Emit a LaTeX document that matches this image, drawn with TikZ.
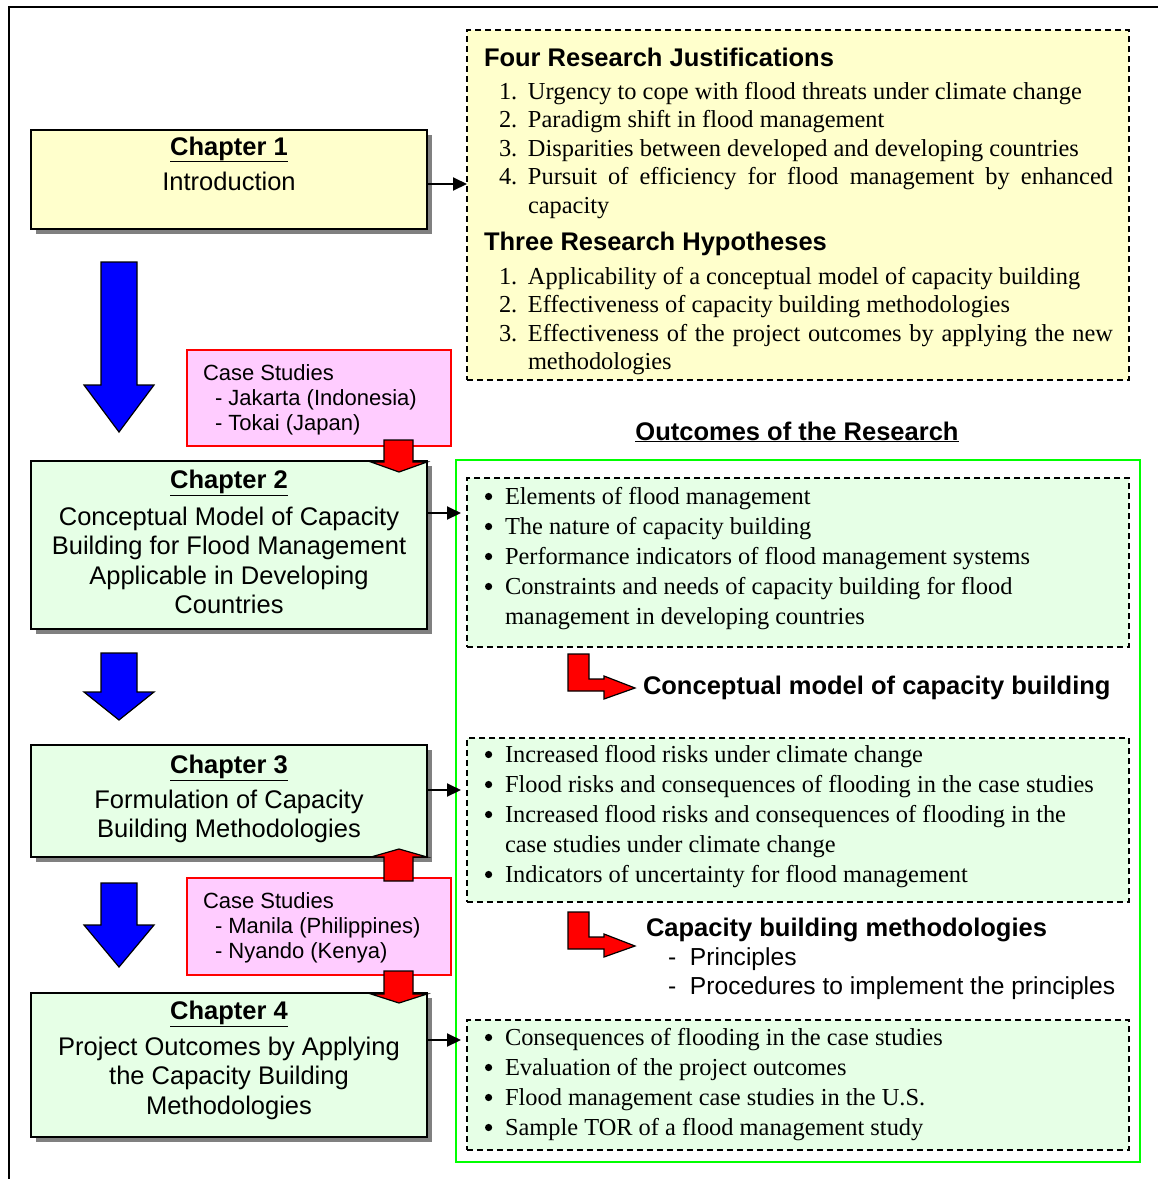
\documentclass[tikz,border=0pt]{standalone}
\usepackage{fontspec}
\setmainfont{Liberation Serif}
\setsansfont{Liberation Sans}
\usetikzlibrary{shadows,arrows.meta,calc}

\definecolor{paleyellow}{HTML}{FFFFCC}
\definecolor{palegreen}{HTML}{E6FFE6}
\definecolor{palepink}{HTML}{FFCCFF}
\definecolor{brightgreen}{HTML}{00FF00}
\definecolor{shadowgray}{HTML}{808080}

% type sizes
\newcommand\sansbig{\sffamily\fontsize{25.5}{29.5}\selectfont}
\newcommand\sanssub{\sffamily\fontsize{24.6}{29}\selectfont}
\newcommand\sanssmall{\sffamily\fontsize{22}{25}\selectfont}
\newcommand\serifyellow{\rmfamily\fontsize{24.4}{28.5}\selectfont}
\newcommand\serifgreen{\rmfamily\fontsize{24.4}{30}\selectfont}
% fixed height for the first line of a block, so its top edge is predictable
\newcommand\lineone{\rule{0pt}{20pt}}
\newcommand\numitem[1]{\makebox[29pt][l]{#1}}
\newcommand\bulletitem{\makebox[20pt][l]{\tikz[baseline=0pt]\fill[black] (4pt,7.5pt) circle (3.6pt);}}
\newcommand\bulletgap{\makebox[20pt][l]{}}

\begin{document}
\begin{tikzpicture}[x=1pt,y=-1pt,
  chapbox/.style={draw=black, line width=2pt, anchor=north west, inner sep=0, outer sep=0,
    minimum width=396pt,
    drop shadow={shadow xshift=5pt, shadow yshift=-5pt, fill=shadowgray, opacity=1}},
  casebox/.style={draw=red, line width=1.2pt, fill=palepink, anchor=north west,
    inner sep=0, outer sep=0, minimum width=264pt},
  dashbox/.style={draw=black, line width=1.3pt, dash pattern=on 6pt off 4pt,
    anchor=north west, inner sep=0, outer sep=0, minimum width=662pt},
  block/.style={inner sep=0, outer sep=0},
  conn/.style={line width=2pt, -{Triangle[length=14pt,width=13pt]}},
  bluearrow/.style={fill=blue, draw=black, line width=1.2pt, line join=miter},
  redarrow/.style={fill=red, draw=black, line width=1.2pt, line join=miter},
]
\useasboundingbox (0,0) rectangle (1158,1179);

% frame
\draw[line width=1.5pt] (9,1179) -- (9,7) -- (1158,7);

% ---------- right column ----------
\node[dashbox, fill=paleyellow, minimum height=350pt] (just) at (467,30) {};
\node[block, font=\sansbig\bfseries, anchor=base west] (justtitle) at (484,66) {Four Research Justifications};
\node[block, font=\serifyellow, align=left, anchor=north west] (justlist) at (499,79)
  {\lineone\numitem{1.}Urgency to cope with flood threats under climate change\\
   \numitem{2.}Paradigm shift in flood management\\
   \numitem{3.}Disparities between developed and developing countries\\
   \numitem{4.}\makebox[585pt][s]{Pursuit of efficiency for flood management by enhanced}\\
   \numitem{}capacity};
\node[block, font=\sansbig\bfseries, anchor=base west] (hyptitle) at (484,250) {Three Research Hypotheses};
\node[block, font=\serifyellow, align=left, anchor=north west] (hyplist) at (499,264)
  {\lineone\numitem{1.}Applicability of a conceptual model of capacity building\\
   \numitem{2.}Effectiveness of capacity building methodologies\\
   \numitem{3.}\makebox[585pt][s]{Effectiveness of the project outcomes by applying the new}\\
   \numitem{}methodologies};

\node[block, font=\sansbig\bfseries, anchor=base] (outtitle) at (797,440) {\underline{Outcomes of the Research}};
\node[draw=brightgreen, line width=2.5pt, fill=white, anchor=north west, inner sep=0, outer sep=0,
  minimum width=684pt, minimum height=702pt] (outcomes) at (456,460) {};

\node[dashbox, fill=palegreen, minimum height=169pt] (out1) at (467,478) {};
\node[block, font=\serifgreen, align=left, anchor=north west] (out1list) at (485,484)
  {\lineone\bulletitem Elements of flood management\\
   \bulletitem The nature of capacity building\\
   \bulletitem Performance indicators of flood management systems\\
   \bulletitem Constraints and needs of capacity building for flood\\
   \bulletgap management in developing countries};

\node[dashbox, fill=palegreen, minimum height=164pt] (out2) at (467,738) {};
\node[block, font=\serifgreen, align=left, anchor=north west] (out2list) at (485,742)
  {\lineone\bulletitem Increased flood risks under climate change\\
   \bulletitem Flood risks and consequences of flooding in the case studies\\
   \bulletitem Increased flood risks and consequences of flooding in the\\
   \bulletgap case studies under climate change\\
   \bulletitem Indicators of uncertainty for flood management};

\node[dashbox, fill=palegreen, minimum height=130pt] (out3) at (467,1020) {};
\node[block, font=\serifgreen, align=left, anchor=north west] (out3list) at (485,1025)
  {\lineone\bulletitem Consequences of flooding in the case studies\\
   \bulletitem Evaluation of the project outcomes\\
   \bulletitem Flood management case studies in the U.S.\\
   \bulletitem Sample TOR of a flood management study};

% bent result arrows
\draw[redarrow] (568,654) -- (589,654) -- (589,679) -- (604,679) -- (604,676) -- (635,688)
  -- (604,699) -- (604,691) -- (568,691) -- cycle;
\node[block, font=\sansbig\bfseries, anchor=base west] (model) at (643,694) {Conceptual model of capacity building};

\draw[redarrow] (568,912) -- (589,912) -- (589,937) -- (604,937) -- (604,934) -- (635,946)
  -- (604,957) -- (604,949) -- (568,949) -- cycle;
\node[block, font=\sansbig\bfseries, anchor=base west] (method) at (646,936) {Capacity building methodologies};
\node[block, font=\sanssub, align=left, anchor=north west] (methodlist) at (668,945)
  {\lineone\makebox[22pt][l]{-}Principles\\
   \makebox[22pt][l]{-}Procedures to implement the principles};

% ---------- left column ----------
\node[chapbox, fill=paleyellow, minimum height=99pt] (ch1) at (31,130) {};
\node[block, font=\sansbig, anchor=base] (ch1title) at (229,155) {\underline{\textbf{Chapter 1}}};
\node[block, font=\sansbig, anchor=base] (ch1text) at (229,190) {Introduction};

\node[casebox, minimum height=96pt] (case1) at (187,350) {};
\node[block, font=\sanssmall, align=left, anchor=north west] (case1text) at (203,362)
  {\rule{0pt}{18pt}Case Studies\\
   \hspace*{12pt}- Jakarta (Indonesia)\\
   \hspace*{12pt}- Tokai (Japan)};

\node[chapbox, fill=palegreen, minimum height=168pt] (ch2) at (31,461) {};
\node[block, font=\sansbig, anchor=base] (ch2title) at (229,488) {\underline{\textbf{Chapter 2}}};
\node[block, font=\sansbig, align=center, anchor=north] (ch2text) at (229,505)
  {\lineone Conceptual Model of Capacity\\
   Building for Flood Management\\
   Applicable in Developing\\
   Countries};

\node[chapbox, fill=palegreen, minimum height=112pt] (ch3) at (31,745) {};
\node[block, font=\sansbig, anchor=base] (ch3title) at (229,773) {\underline{\textbf{Chapter 3}}};
\node[block, font=\sansbig, align=center, anchor=north] (ch3text) at (229,788)
  {\lineone Formulation of Capacity\\
   Building Methodologies};

\node[casebox, minimum height=97pt] (case2) at (187,878) {};
\node[block, font=\sanssmall, align=left, anchor=north west] (case2text) at (203,890)
  {\rule{0pt}{18pt}Case Studies\\
   \hspace*{12pt}- Manila (Philippines)\\
   \hspace*{12pt}- Nyando (Kenya)};

\node[chapbox, fill=palegreen, minimum height=144pt] (ch4) at (31,993) {};
\node[block, font=\sansbig, anchor=base] (ch4title) at (229,1019) {\underline{\textbf{Chapter 4}}};
\node[block, font=\sansbig, align=center, anchor=north] (ch4text) at (229,1035)
  {\lineone Project Outcomes by Applying\\
   the Capacity Building\\
   Methodologies};

% block arrows between chapters
\draw[bluearrow] (101,262) -- (137,262) -- (137,385) -- (154,385) -- (119,432) -- (84,385) -- (101,385) -- cycle;
\draw[bluearrow] (101,653) -- (137,653) -- (137,692) -- (154,692) -- (119,720) -- (84,692) -- (101,692) -- cycle;
\draw[bluearrow] (101,883) -- (137,883) -- (137,925) -- (154,925) -- (119,967) -- (84,925) -- (101,925) -- cycle;

% case study arrows
\draw[redarrow] (384,440) -- (413,440) -- (413,462) -- (427,462) -- (399,472) -- (371,462) -- (384,462) -- cycle;
\draw[redarrow] (384,881) -- (413,881) -- (413,857) -- (427,857) -- (399,849) -- (371,857) -- (384,857) -- cycle;
\draw[redarrow] (384,971) -- (413,971) -- (413,994) -- (427,994) -- (399,1003) -- (371,994) -- (384,994) -- cycle;

% connectors from chapters to their contents
\coordinate (c1) at ([yshift=-4.5pt]ch1.east);
\coordinate (c2) at ([yshift=32pt]ch2.east);
\coordinate (c3) at ([yshift=11pt]ch3.east);
\coordinate (c4) at ([yshift=25pt]ch4.east);
\draw[conn] (c1) -- (c1 -| just.west);
\draw[conn] (c2) -- ($(c2 -| outcomes.west)+(5,0)$);
\draw[conn] (c3) -- ($(c3 -| outcomes.west)+(5,0)$);
\draw[conn] (c4) -- ($(c4 -| outcomes.west)+(5,0)$);
\end{tikzpicture}
\end{document}
